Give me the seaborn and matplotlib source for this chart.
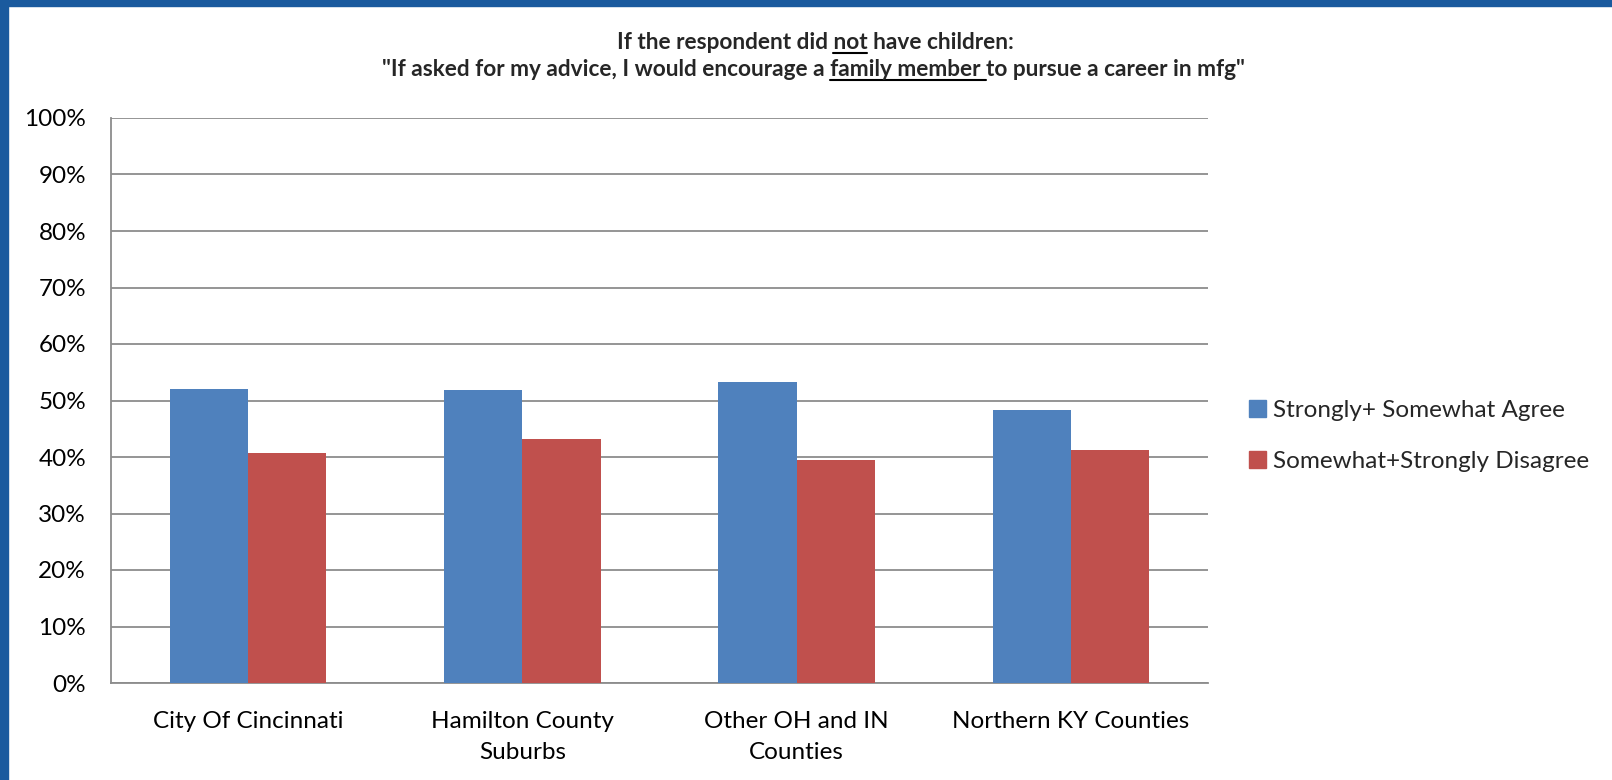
import matplotlib
matplotlib.use("Agg")
import matplotlib.pyplot as plt
from matplotlib.patches import Rectangle
from matplotlib.lines import Line2D
from matplotlib.ticker import PercentFormatter
import seaborn as sns
import pandas as pd

categories = ["City Of Cincinnati", "Hamilton County\nSuburbs",
              "Other OH and IN\nCounties", "Northern KY Counties"]
series_names = ["Strongly+ Somewhat Agree", "Somewhat+Strongly Disagree"]
agree = [52.0, 51.9, 53.2, 48.4]
disagree = [40.7, 43.1, 39.4, 41.2]
y_ticks = [0, 10, 20, 30, 40, 50, 60, 70, 80, 90, 100]
title_line1 = [("If the respondent did ", False), ("not", True), (" have children:", False)]
title_line2 = [("\"If asked for my advice, I would encourage a ", False),
               ("family member ", True), ("to pursue a career in mfg\"", False)]

colors = ["#4F81BD", "#C0504D"]

df = pd.DataFrame({
    "category": categories * 2,
    "series": [series_names[0]] * 4 + [series_names[1]] * 4,
    "value": agree + disagree,
})

sns.set_theme(style="white")
plt.rcParams["font.family"] = ["Lato", "DejaVu Sans"]

W, H = 1612, 780
fig = plt.figure(figsize=(W / 100, H / 100), dpi=100)
ax = fig.add_axes([111 / W, 1 - 683 / H, (1208 - 111) / W, (683 - 118) / H])

sns.barplot(data=df, x="category", y="value", hue="series", order=categories,
            hue_order=series_names, palette=colors, width=0.57, saturation=1,
            ax=ax, zorder=3, linewidth=0)

ax.set_ylim(0, 100)
ax.set_yticks(y_ticks)
ax.yaxis.set_major_formatter(PercentFormatter(decimals=0))
ax.set_xlim(-0.5, len(categories) - 0.5)
ax.grid(axis="y", color="#8C8C8C", linewidth=1.3, zorder=0)
ax.grid(axis="x", visible=False)
for side in ["top", "right"]:
    ax.spines[side].set_visible(False)
for side in ["left", "bottom"]:
    ax.spines[side].set_color("#8C8C8C")
    ax.spines[side].set_linewidth(1.3)
ax.tick_params(axis="both", length=0, labelsize=17.5, colors="black")
ax.tick_params(axis="y", pad=18)
ax.tick_params(axis="x", pad=20)
for lab in ax.get_xticklabels():
    lab.set_linespacing(1.58)
ax.set_xlabel("")
ax.set_ylabel("")

handles = [Rectangle((0, 0), 1, 1, color=c) for c in colors]
ax.legend(handles, series_names, loc="center left",
          bbox_to_anchor=(1249 / W, 1 - 436 / H), bbox_transform=fig.transFigure,
          frameon=False, fontsize=17.5, handlelength=0.7, handleheight=0.7,
          handletextpad=0.3, labelspacing=1.2, borderpad=0, borderaxespad=0)

# Title with underlined words
renderer = fig.canvas.get_renderer()
tfs = 16.3


def text_width(s):
    t = fig.text(0, 0, s + "|", fontsize=tfs, fontweight="bold")
    t2 = fig.text(0, 0, "|", fontsize=tfs, fontweight="bold")
    w = t.get_window_extent(renderer).width - t2.get_window_extent(renderer).width
    t.remove()
    t2.remove()
    return w


def draw_line(segments, xc_px, base_px):
    full = "".join(s for s, _ in segments)
    total = text_width(full)
    left = xc_px - total / 2
    fig.text(left / W, 1 - base_px / H, full, fontsize=tfs, fontweight="bold",
             ha="left", va="baseline")
    prefix = ""
    for s, u in segments:
        x0 = left + text_width(prefix)
        x1 = left + text_width(prefix + s)
        if u:
            yy = 1 - (base_px + 3.5) / H
            fig.add_artist(Line2D([x0 / W, x1 / W], [yy, yy], color="black",
                                  linewidth=1.5, transform=fig.transFigure))
        prefix += s


draw_line(title_line1, 815, 49)
draw_line(title_line2, 813, 76)

# Blue frame (top and left)
fig.add_artist(Rectangle((0, 1 - 6 / H), 1, 6 / H, transform=fig.transFigure,
                         color="#1A5A9E", zorder=10))
fig.add_artist(Rectangle((0, 0), 8 / W, 1, transform=fig.transFigure,
                         color="#1A5A9E", zorder=10))

fig.savefig("out.png", dpi=100)
